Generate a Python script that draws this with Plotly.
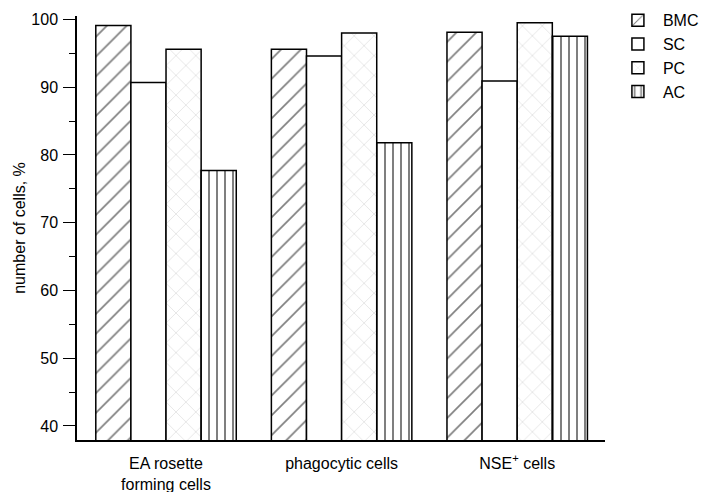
import plotly.graph_objects as go

categories = ["EA rosette<br>forming cells", "phagocytic cells", "NSE<sup>+</sup> cells"]
series_names = ["BMC", "SC", "PC", "AC"]
bmc = [99.1, 95.6, 98.1]
sc = [90.7, 94.6, 90.9]
pc = [95.6, 98.0, 99.5]
ac = [77.7, 81.8, 97.5]
values = [bmc, sc, pc, ac]

patterns = [
    dict(shape="/", fgcolor="#000000", bgcolor="white", size=14, solidity=0.12, fillmode="overlay"),
    dict(shape="", bgcolor="white"),
    dict(shape="x", fgcolor="#bdbdbd", bgcolor="white", size=14, solidity=0.1, fillmode="overlay"),
    dict(shape="|", fgcolor="black", bgcolor="white", size=8, solidity=0.25, fillmode="overlay"),
]

font = "Liberation Sans, Arial, Helvetica, sans-serif"

fig = go.Figure()
for name, vals, pat in zip(series_names, values, patterns):
    fig.add_trace(go.Bar(
        x=categories, y=vals, name=name,
        marker=dict(color="white", line=dict(color="black", width=1.5), pattern=pat),
    ))

fig.update_layout(
    width=703, height=492,
    margin=dict(l=77, r=98, t=16, b=52, autoexpand=False),
    paper_bgcolor="white", plot_bgcolor="white",
    barmode="group", bargap=0.2, bargroupgap=0,
    font=dict(family=font, size=16, color="black"),
    legend=dict(x=1.015, xanchor="left", y=1.03, yanchor="top",
                font=dict(size=16), tracegroupgap=0, itemwidth=40,
                bgcolor="rgba(0,0,0,0)"),
    showlegend=True,
)
fig.update_xaxes(
    range=[-0.507, 2.5], showline=True, linecolor="black", linewidth=2,
    ticks="", showgrid=False, zeroline=False, automargin=False,
    tickfont=dict(size=16), ticklabelstandoff=8,
)
fig.update_yaxes(
    range=[37.93, 100.5], showline=True, linecolor="black", linewidth=1.5,
    ticks="outside", ticklen=12, tickwidth=1.3, tickcolor="black",
    tick0=40, dtick=10, showgrid=False, zeroline=False, automargin=False,
    minor=dict(dtick=5, tick0=40, ticks="outside", ticklen=6, tickwidth=1.3, tickcolor="black"),
    tickfont=dict(size=16), ticklabelstandoff=2,
    title=dict(text="number of cells, %", font=dict(size=16), standoff=2),
)
fig.write_html(
    "out.html",
    config={"displayModeBar": False},
    post_script="document.body.style.margin='0';document.body.style.padding='0';",
)
